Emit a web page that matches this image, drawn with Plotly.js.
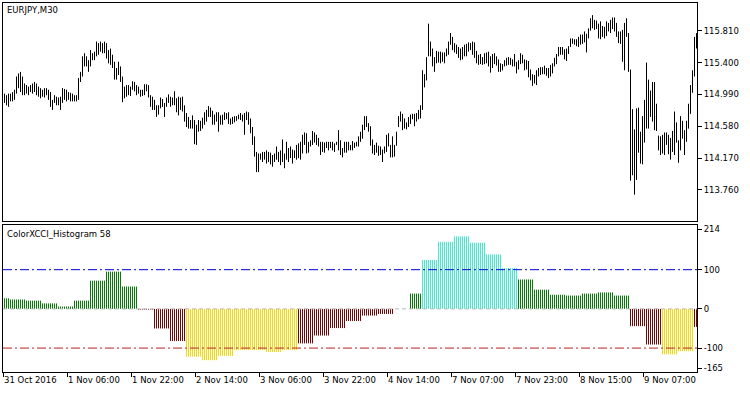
<!DOCTYPE html>
<html><head><meta charset="utf-8">
<script src="https://cdn.plot.ly/plotly-3.0.1.min.js"></script>
<style>html,body{margin:0;padding:0;background:#fff}#chart{width:750px;height:394px}</style>
</head><body><div id="chart"></div>
<script>
// ---- data ----
const symbolTitle = 'EURJPY,M30';
const indicatorTitle = 'ColorXCCI_Histogram 58';
const timeLabels = ['31 Oct 2016','1 Nov 06:00','1 Nov 22:00','2 Nov 14:00','3 Nov 06:00','3 Nov 22:00','4 Nov 14:00','7 Nov 07:00','7 Nov 23:00','8 Nov 15:00','9 Nov 07:00'];
const timeLabelBars = [0,32,64,96,128,160,192,224,256,288,320];
const priceTicks = [113.760,114.170,114.580,114.990,115.400,115.810];
const levelValues = [100, 0, -100];
const oscTickLabels = ['214','100','0','-100','-165'];

const high = [
115.00,114.98,115.00,115.00,115.02,115.05,115.22,115.26,115.28,115.22,
115.13,115.11,115.09,115.11,115.13,115.15,115.13,115.09,115.07,115.05,
115.07,115.07,115.05,115.02,114.92,114.98,114.96,114.95,114.96,115.07,
115.06,115.05,115.02,115.01,115.00,114.98,114.98,115.20,115.28,115.48,
115.52,115.48,115.43,115.56,115.52,115.54,115.67,115.65,115.67,115.65,
115.67,115.65,115.56,115.58,115.50,115.41,115.33,115.41,115.35,115.22,
115.09,115.11,115.11,115.09,115.16,115.15,115.11,115.09,115.05,115.05,
115.12,115.12,115.11,114.98,114.96,114.92,114.85,114.85,114.95,114.93,
114.88,114.95,114.99,114.96,114.95,115.03,114.94,114.96,114.95,114.96,
114.85,114.75,114.70,114.66,114.72,114.66,114.60,114.66,114.65,114.69,
114.76,114.79,114.84,114.82,114.78,114.73,114.76,114.76,114.72,114.73,
114.76,114.75,114.76,114.68,114.70,114.71,114.71,114.73,114.75,114.73,
114.75,114.77,114.76,114.68,114.57,114.45,114.25,114.23,114.23,114.25,
114.25,114.27,114.25,114.24,114.21,114.23,114.32,114.25,114.27,114.41,
114.23,114.38,114.30,114.32,114.28,114.27,114.34,114.36,114.38,114.47,
114.50,114.49,114.38,114.40,114.52,114.50,114.47,114.43,114.38,114.38,
114.37,114.38,114.38,114.38,114.38,114.36,114.38,114.53,114.40,114.30,
114.38,114.38,114.38,114.34,114.39,114.37,114.38,114.45,114.51,114.60,
114.71,114.71,114.62,114.58,114.41,114.34,114.37,114.33,114.32,114.28,
114.32,114.47,114.49,114.34,114.45,114.34,114.51,114.71,114.77,114.74,
114.68,114.63,114.70,114.73,114.74,114.74,114.75,114.79,114.85,115.30,
115.25,115.47,115.90,115.67,115.58,115.47,115.55,115.54,115.54,115.53,
115.53,115.58,115.67,115.78,115.73,115.65,115.63,115.60,115.58,115.60,
115.63,115.64,115.66,115.65,115.67,115.66,115.55,115.50,115.51,115.47,
115.52,115.53,115.54,115.48,115.51,115.52,115.48,115.44,115.39,115.38,
115.43,115.46,115.47,115.46,115.44,115.51,115.41,115.43,115.52,115.50,
115.44,115.43,115.42,115.31,115.25,115.24,115.30,115.33,115.34,115.34,
115.36,115.33,115.33,115.37,115.39,115.46,115.51,115.60,115.60,115.60,
115.57,115.58,115.61,115.71,115.71,115.70,115.70,115.73,115.76,115.76,
115.80,115.77,115.84,115.97,116.01,115.95,115.94,115.90,115.93,115.87,
115.86,115.93,115.91,115.95,115.98,115.98,115.91,115.80,115.80,115.82,
115.91,115.97,115.78,115.31,114.80,114.54,114.81,114.82,114.51,114.71,
114.92,115.40,115.18,115.04,115.15,115.15,114.87,114.46,114.45,114.47,
114.50,114.50,114.47,114.43,114.52,114.77,114.63,114.40,114.71,114.65,
114.53,114.65,114.87,115.11,115.30,115.73,115.78];

const low = [
114.88,114.85,114.83,114.90,114.90,114.92,115.00,115.07,115.02,114.98,
114.98,115.00,114.98,115.02,115.00,115.02,114.98,114.96,114.94,114.96,
114.95,114.98,114.92,114.83,114.79,114.88,114.85,114.85,114.79,114.88,
114.92,114.90,114.92,114.90,114.90,114.90,114.90,114.92,115.15,115.22,
115.35,115.35,115.28,115.35,115.43,115.43,115.48,115.50,115.54,115.52,
115.52,115.45,115.39,115.37,115.33,115.18,115.18,115.24,115.15,114.89,
114.94,114.96,114.98,114.97,115.05,115.03,114.98,115.00,114.96,114.97,
114.98,115.03,114.95,114.83,114.79,114.79,114.70,114.73,114.81,114.83,
114.70,114.83,114.88,114.83,114.85,114.85,114.76,114.72,114.79,114.77,
114.64,114.57,114.55,114.55,114.55,114.35,114.34,114.51,114.52,114.55,
114.60,114.64,114.70,114.70,114.60,114.60,114.64,114.51,114.60,114.60,
114.66,114.67,114.61,114.60,114.61,114.63,114.65,114.67,114.66,114.64,
114.47,114.66,114.60,114.49,114.34,114.19,113.99,113.99,114.15,114.12,
114.15,114.10,114.12,114.09,114.06,114.12,114.15,114.12,114.08,114.12,
114.04,114.15,114.12,114.17,114.10,114.17,114.15,114.17,114.15,114.23,
114.34,114.23,114.24,114.32,114.34,114.37,114.34,114.32,114.21,114.25,
114.24,114.30,114.27,114.30,114.27,114.25,114.34,114.27,114.21,114.18,
114.24,114.24,114.27,114.27,114.27,114.30,114.32,114.32,114.38,114.42,
114.53,114.57,114.51,114.33,114.23,114.21,114.24,114.20,114.21,114.12,
114.23,114.25,114.32,114.18,114.18,114.19,114.33,114.57,114.64,114.53,
114.55,114.54,114.57,114.61,114.67,114.58,114.64,114.67,114.68,114.79,
115.08,115.17,115.48,115.48,115.35,115.28,115.39,115.40,115.39,115.41,
115.39,115.48,115.50,115.63,115.56,115.53,115.51,115.46,115.43,115.44,
115.48,115.48,115.54,115.56,115.50,115.46,115.39,115.37,115.38,115.37,
115.38,115.39,115.35,115.27,115.33,115.38,115.36,115.28,115.28,115.30,
115.35,115.36,115.37,115.37,115.35,115.35,115.26,115.31,115.38,115.39,
115.30,115.31,115.21,115.17,115.10,115.13,115.11,115.22,115.24,115.25,
115.25,115.23,115.20,115.22,115.26,115.35,115.38,115.48,115.50,115.50,
115.44,115.42,115.51,115.60,115.64,115.63,115.61,115.60,115.63,115.64,
115.66,115.53,115.71,115.81,115.84,115.82,115.83,115.71,115.70,115.73,
115.71,115.74,115.80,115.78,115.83,115.80,115.73,115.65,115.64,115.41,
115.30,115.73,115.28,113.88,113.95,113.70,113.89,114.24,114.10,114.09,
114.37,114.55,114.55,114.70,114.64,114.53,114.52,114.27,114.21,114.23,
114.21,114.34,114.22,114.15,114.25,114.21,114.37,114.11,114.27,114.42,
114.21,114.38,114.55,114.74,115.01,115.22,115.58];

const xcci = [
27,27,27,
24,24,24,24,24,24,24,24,
21,21,21,21,21,21,21,21,
14,14,14,14,14,14,14,14,
6,6,6,6,6,6,6,6,
21,21,21,21,21,21,21,21,
72,72,72,72,72,72,72,72,
95,95,95,95,95,95,95,95,
57,57,57,57,57,57,57,57,
-2,-2,-2,-2,-2,-2,-2,-2,
-50,-50,-50,-50,-50,-50,-50,-50,
-82,-82,-82,-82,-82,-82,-82,-82,
-122,-122,-122,-122,-122,-122,-122,-122,
-131,-131,-131,-131,-131,-131,-131,-131,
-120,-120,-120,-120,-120,-120,-120,-120,
-105,-105,-105,-105,-105,-105,-105,-105,
-105,-105,-105,-105,-105,-105,-105,-105,
-110,-110,-110,-110,-110,-110,-110,-110,
-105,-105,-105,-105,-105,-105,-105,-105,
-88,-88,-88,-88,-88,-88,-88,-88,
-68,-68,-68,-68,-68,-68,-68,-68,
-49,-49,-49,-49,-49,-49,-49,-49,
-31,-31,-31,-31,-31,-31,-31,-31,
-17,-17,-17,-17,-17,-17,-17,-17,
-13,-13,-13,-13,-13,-13,-13,-13,
0,0,0,0,0,0,0,0,
39,39,39,39,39,39,
125,125,125,125,125,125,125,125,
171,171,171,171,171,171,171,171,
185,185,185,185,185,185,185,185,
169,169,169,169,169,169,169,169,
139,139,139,139,139,139,139,139,
104,104,104,104,104,104,104,104,
75,75,75,75,75,75,75,75,
49,49,49,49,49,49,49,49,
36,36,36,36,36,36,36,36,
34,34,34,34,34,34,34,34,
39,39,39,39,39,39,39,39,
42,42,42,42,42,42,42,42,
34,34,34,34,34,34,34,34,
-44,-44,-44,-44,-44,-44,-44,-44,
-91,-91,-91,-91,-91,-91,-91,-91,
-116,-116,-116,-116,-116,-116,-116,-116,
-108,-108,-108,-108,-108,-108,-108,-108,
-46,-46];

// ---- build ----
const n = high.length;
const px = [], py = [];
for (let i = 0; i < n; i++) { px.push(i, i, null); py.push(low[i], high[i], null); }

const classes = [
  {name: 'strongUp', color: '#3AF2C8', test: v => v > 100},
  {name: 'up', color: '#008000', test: v => v >= 0 && v <= 100},
  {name: 'down', color: '#800000', test: v => v < 0 && v >= -100},
  {name: 'strongDown', color: '#FFD700', test: v => v < -100}
];

const FONT = 'DejaVu Sans, Verdana, sans-serif';
const traces = [
  {type: 'scatter', mode: 'lines', x: px, y: py, xaxis: 'x2', yaxis: 'y2',
   line: {color: '#000', width: 1}, hoverinfo: 'skip', connectgaps: false}
];
classes.forEach(c => {
  const hx = [], hy = [];
  xcci.forEach((v, i) => { if (c.test(v) && v !== 0) { hx.push(i, i, null); hy.push(0, v, null); } });
  traces.push({type: 'scatter', mode: 'lines', x: hx, y: hy, xaxis: 'x', yaxis: 'y',
    line: {color: c.color, width: 1}, hoverinfo: 'skip', connectgaps: false, name: c.name});
});

const xr = [-0.75, n - 0.75];
const oscRange = [-161, 214];
const layout = {
  width: 750, height: 394,
  margin: {l: 3, r: 53, t: 3, b: 22, pad: 0},
  paper_bgcolor: '#fff', plot_bgcolor: '#fff',
  showlegend: false,
  font: {family: FONT, size: 8.5, color: '#000'},
  xaxis: {domain: [0, 1], anchor: 'y', range: xr, showgrid: false, zeroline: false,
    showline: true, mirror: true, linecolor: '#000', linewidth: 1,
    ticks: 'outside', ticklen: 4, tickcolor: '#000', tickwidth: 1,
    tickmode: 'array', tickvals: timeLabelBars.map(b => b - 0.74), ticktext: timeLabels,
    ticklabelposition: 'outside right', tickfont: {family: FONT, size: 8.5, color: '#000'}},
  xaxis2: {domain: [0, 1], anchor: 'y2', matches: 'x', range: xr, showgrid: false, zeroline: false,
    showline: true, mirror: true, linecolor: '#000', linewidth: 1, ticks: '', showticklabels: false},
  yaxis: {domain: [0, 0.3984], anchor: 'x', side: 'right', range: oscRange, showgrid: false, zeroline: false,
    showline: true, mirror: true, linecolor: '#000', linewidth: 1,
    ticks: 'outside', ticklen: 4, tickcolor: '#000',
    tickmode: 'array', tickvals: [202.5, 100, 0, -100, -150.8], ticktext: oscTickLabels,
    tickfont: {family: FONT, size: 8.5, color: '#000'}},
  yaxis2: {domain: [0.4092, 1], anchor: 'x2', side: 'right', range: [113.361, 116.166], showgrid: false, zeroline: false,
    showline: true, mirror: true, linecolor: '#000', linewidth: 1,
    ticks: 'outside', ticklen: 4, tickcolor: '#000',
    tickmode: 'array', tickvals: priceTicks, ticktext: priceTicks.map(v => v.toFixed(3)),
    tickfont: {family: FONT, size: 8.5, color: '#000'}},
  shapes: [
    {type: 'line', xref: 'paper', yref: 'y', x0: 0, x1: 1, y0: levelValues[0], y1: levelValues[0], layer: 'above',
     line: {color: '#0000E0', width: 1, dash: '9px,3px,2px,3px'}},
    {type: 'line', xref: 'paper', yref: 'y', x0: 0, x1: 1, y0: levelValues[1], y1: levelValues[1], layer: 'above',
     line: {color: '#B8B8B8', width: 1, dash: '4px,3px'}},
    {type: 'line', xref: 'paper', yref: 'y', x0: 0, x1: 1, y0: levelValues[2], y1: levelValues[2], layer: 'above',
     line: {color: '#B82020', width: 1, dash: '9px,3px,2px,3px'}}
  ],
  annotations: [
    {text: symbolTitle, xref: 'paper', yref: 'paper', x: 0, y: 1, xanchor: 'left', yanchor: 'top',
     xshift: 2, yshift: 0, showarrow: false, font: {family: FONT, size: 8.5, color: '#000'}},
    {text: indicatorTitle, xref: 'paper', yref: 'paper', x: 0, y: 0.3984, xanchor: 'left', yanchor: 'top',
     xshift: 2, yshift: -2, showarrow: false, font: {family: FONT, size: 8.5, color: '#000'}}
  ]
};

Plotly.newPlot('chart', traces, layout, {staticPlot: true, displayModeBar: false});
</script></body></html>
